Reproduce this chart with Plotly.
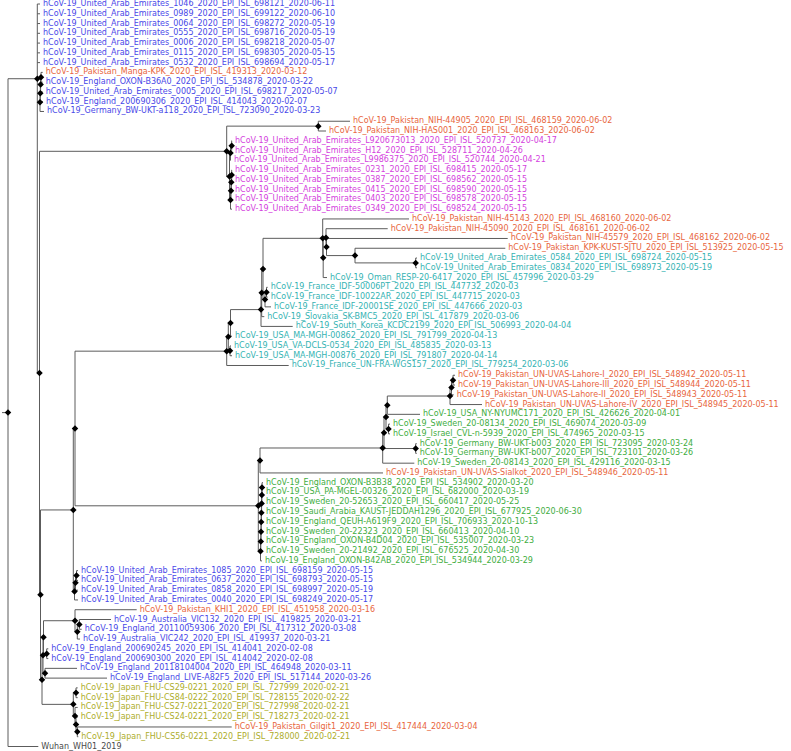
import plotly.graph_objects as go

# tip labels, top to bottom
LABELS = [
    "hCoV-19_United_Arab_Emirates_1046_2020_EPI_ISL_698121_2020-06-11",
    "hCoV-19_United_Arab_Emirates_0989_2020_EPI_ISL_699122_2020-06-10",
    "hCoV-19_United_Arab_Emirates_0064_2020_EPI_ISL_698272_2020-05-19",
    "hCoV-19_United_Arab_Emirates_0555_2020_EPI_ISL_698716_2020-05-19",
    "hCoV-19_United_Arab_Emirates_0006_2020_EPI_ISL_698218_2020-05-07",
    "hCoV-19_United_Arab_Emirates_0115_2020_EPI_ISL_698305_2020-05-15",
    "hCoV-19_United_Arab_Emirates_0532_2020_EPI_ISL_698694_2020-05-17",
    "hCoV-19_Pakistan_Manga-KPK_2020_EPI_ISL_419313_2020-03-12",
    "hCoV-19_England_OXON-B36A0_2020_EPI_ISL_534878_2020-03-22",
    "hCoV-19_United_Arab_Emirates_0005_2020_EPI_ISL_698217_2020-05-07",
    "hCoV-19_England_200690306_2020_EPI_ISL_414043_2020-02-07",
    "hCoV-19_Germany_BW-UKT-a118_2020_EPI_ISL_723090_2020-03-23",
    "hCoV-19_Pakistan_NIH-44905_2020_EPI_ISL_468159_2020-06-02",
    "hCoV-19_Pakistan_NIH-HAS001_2020_EPI_ISL_468163_2020-06-02",
    "hCoV-19_United_Arab_Emirates_L920673013_2020_EPI_ISL_520737_2020-04-17",
    "hCoV-19_United_Arab_Emirates_H12_2020_EPI_ISL_528711_2020-04-26",
    "hCoV-19_United_Arab_Emirates_L9986375_2020_EPI_ISL_520744_2020-04-21",
    "hCoV-19_United_Arab_Emirates_0231_2020_EPI_ISL_698415_2020-05-17",
    "hCoV-19_United_Arab_Emirates_0387_2020_EPI_ISL_698562_2020-05-15",
    "hCoV-19_United_Arab_Emirates_0415_2020_EPI_ISL_698590_2020-05-15",
    "hCoV-19_United_Arab_Emirates_0403_2020_EPI_ISL_698578_2020-05-15",
    "hCoV-19_United_Arab_Emirates_0349_2020_EPI_ISL_698524_2020-05-15",
    "hCoV-19_Pakistan_NIH-45143_2020_EPI_ISL_468160_2020-06-02",
    "hCoV-19_Pakistan_NIH-45090_2020_EPI_ISL_468161_2020-06-02",
    "hCoV-19_Pakistan_NIH-45579_2020_EPI_ISL_468162_2020-06-02",
    "hCoV-19_Pakistan_KPK-KUST-SJTU_2020_EPI_ISL_513925_2020-05-15",
    "hCoV-19_United_Arab_Emirates_0584_2020_EPI_ISL_698724_2020-05-15",
    "hCoV-19_United_Arab_Emirates_0834_2020_EPI_ISL_698973_2020-05-19",
    "hCoV-19_Oman_RESP-20-6417_2020_EPI_ISL_457996_2020-03-29",
    "hCoV-19_France_IDF-50006PT_2020_EPI_ISL_447732_2020-03",
    "hCoV-19_France_IDF-10022AR_2020_EPI_ISL_447715_2020-03",
    "hCoV-19_France_IDF-20001SE_2020_EPI_ISL_447666_2020-03",
    "hCoV-19_Slovakia_SK-BMC5_2020_EPI_ISL_417879_2020-03-06",
    "hCoV-19_South_Korea_KCDC2199_2020_EPI_ISL_506993_2020-04-04",
    "hCoV-19_USA_MA-MGH-00862_2020_EPI_ISL_791799_2020-04-13",
    "hCoV-19_USA_VA-DCLS-0534_2020_EPI_ISL_485835_2020-03-13",
    "hCoV-19_USA_MA-MGH-00876_2020_EPI_ISL_791807_2020-04-14",
    "hCoV-19_France_UN-FRA-WGS157_2020_EPI_ISL_779254_2020-03-06",
    "hCoV-19_Pakistan_UN-UVAS-Lahore-I_2020_EPI_ISL_548942_2020-05-11",
    "hCoV-19_Pakistan_UN-UVAS-Lahore-III_2020_EPI_ISL_548944_2020-05-11",
    "hCoV-19_Pakistan_UN-UVAS-Lahore-II_2020_EPI_ISL_548943_2020-05-11",
    "hCoV-19_Pakistan_UN-UVAS-Lahore-IV_2020_EPI_ISL_548945_2020-05-11",
    "hCoV-19_USA_NY-NYUMC171_2020_EPI_ISL_426626_2020-04-01",
    "hCoV-19_Sweden_20-08134_2020_EPI_ISL_469074_2020-03-09",
    "hCoV-19_Israel_CVL-n-5939_2020_EPI_ISL_474965_2020-03-15",
    "hCoV-19_Germany_BW-UKT-b003_2020_EPI_ISL_723095_2020-03-24",
    "hCoV-19_Germany_BW-UKT-b007_2020_EPI_ISL_723101_2020-03-26",
    "hCoV-19_Sweden_20-08143_2020_EPI_ISL_429116_2020-03-15",
    "hCoV-19_Pakistan_UN-UVAS-Sialkot_2020_EPI_ISL_548946_2020-05-11",
    "hCoV-19_England_OXON-B3B38_2020_EPI_ISL_534902_2020-03-20",
    "hCoV-19_USA_PA-MGEL-00326_2020_EPI_ISL_682000_2020-03-19",
    "hCoV-19_Sweden_20-52653_2020_EPI_ISL_660417_2020-05-25",
    "hCoV-19_Saudi_Arabia_KAUST-JEDDAH1296_2020_EPI_ISL_677925_2020-06-30",
    "hCoV-19_England_QEUH-A619F9_2020_EPI_ISL_706933_2020-10-13",
    "hCoV-19_Sweden_20-22323_2020_EPI_ISL_660413_2020-04-10",
    "hCoV-19_England_OXON-B4D04_2020_EPI_ISL_535007_2020-03-23",
    "hCoV-19_Sweden_20-21492_2020_EPI_ISL_676525_2020-04-30",
    "hCoV-19_England_OXON-B42AB_2020_EPI_ISL_534944_2020-03-29",
    "hCoV-19_United_Arab_Emirates_1085_2020_EPI_ISL_698159_2020-05-15",
    "hCoV-19_United_Arab_Emirates_0637_2020_EPI_ISL_698793_2020-05-15",
    "hCoV-19_United_Arab_Emirates_0858_2020_EPI_ISL_698997_2020-05-19",
    "hCoV-19_United_Arab_Emirates_0040_2020_EPI_ISL_698249_2020-05-17",
    "hCoV-19_Pakistan_KHI1_2020_EPI_ISL_451958_2020-03-16",
    "hCoV-19_Australia_VIC132_2020_EPI_ISL_419825_2020-03-21",
    "hCoV-19_England_20110059306_2020_EPI_ISL_417312_2020-03-08",
    "hCoV-19_Australia_VIC242_2020_EPI_ISL_419937_2020-03-21",
    "hCoV-19_England_200690245_2020_EPI_ISL_414041_2020-02-08",
    "hCoV-19_England_200690300_2020_EPI_ISL_414042_2020-02-08",
    "hCoV-19_England_20118104004_2020_EPI_ISL_464948_2020-03-11",
    "hCoV-19_England_LIVE-A82F5_2020_EPI_ISL_517144_2020-03-26",
    "hCoV-19_Japan_FHU-CS29-0221_2020_EPI_ISL_727999_2020-02-21",
    "hCoV-19_Japan_FHU-CS84-0222_2020_EPI_ISL_728155_2020-02-22",
    "hCoV-19_Japan_FHU-CS27-0221_2020_EPI_ISL_727998_2020-02-21",
    "hCoV-19_Japan_FHU-CS24-0221_2020_EPI_ISL_718273_2020-02-21",
    "hCoV-19_Pakistan_Gilgit1_2020_EPI_ISL_417444_2020-03-04",
    "hCoV-19_Japan_FHU-CS56-0221_2020_EPI_ISL_728000_2020-02-21",
    "Wuhan_WH01_2019",
]

# colour group of each tip (b=blue, o=Pakistan, m=magenta, t=teal, g=green, y=Japan, k=ref)
GROUPS = ("bbbbbbb" + "o" + "bbbb" + "oo" + "mmmmmmmm" + "oooo" + "tttttttttttt"
          + "oooo" + "gggggg" + "o" + "ggggggggg" + "bbbb" + "o" + "bbbbbbb"
          + "yyyy" + "o" + "y" + "k")

COLORS = {"b": "#4848e8", "o": "#e8653d", "m": "#d43fde", "t": "#35b3b3",
          "g": "#41ad41", "y": "#adad2a", "k": "#4a4a4a"}

# tree: leaves are indices into LABELS, value after ':' is divergence from origin
C2 = "((((7:42.7,8:42.7):41,9:42.7):40.6,10:43):40.3,11:44):40"
MAG = ("(((14:232,15:232):231.7,16:231):230.5,"
       "((((17:232,18:232):231.7,19:232):231.3,20:232):231,21:232):230.5):229.5")
M = "((12:350,13:326):318.3," + MAG + "):226.7"
N = "(22:409,((23:387.7,(24:507.7,(25:505.3,(26:417,27:417):415.7):355):326.5):326,28:327):323.2):322.7"
T0 = "(((" + N + ",((29:267.7,30:267.7):266.5,31:271):265):263,32:264.3):261.7,33:292.7):261"
V = "(((" + T0 + ",34:232):230.5,(35:231,36:232):230):228.3,37:288.7):226.7"
LAH = "(((38:455,39:455):453,40:453.7):451.5,41:482):450"
Q = ("(((((" + LAH + ",42:420):387.3,(43:390,44:390):388.5):386,"
     "(45:416.7,46:416.7):415.7):384,47:414.3):382.7,48:383):260")
G = "((((((((49:263,50:263):262,51:263):261.8,52:263):261.6,53:263):261.4,54:263):261.2,55:263):261,56:263):260.8,57:262):260.5"
P = "(" + Q + "," + G + "):258.3"
UG = "(((58:78,59:78):76.5,60:78):75.5,61:78):74.5"
W = "((" + V + "," + P + "):75," + UG + "):73.3"
K1 = "(62:136.7,((63:111,64:81.7):79.3,65:80):77.3):75"
K5 = "((" + K1 + ",(66:48.3,67:48.3):46.7):43.5,(68:77,69:107):45):43"
J = "((70:77.7,71:77.7):76,(72:77.7,(73:77.7,(74:231.7,75:78.3):77.3):76):75):73.3"
K6 = "(" + K5 + "," + J + "):42"
TREE = ("((0:40,1:40,2:40,3:40,4:40,5:40,6:40," + C2 + ",(" + M + ",("
        + W + "," + K6 + "):40.5):39.5):37.3,76:38.3):8")
ROOT_STUB = 2


def parse(s):
    pos = 0

    def node():
        nonlocal pos
        kids, leaf = [], None
        if s[pos] == "(":
            pos += 1
            kids.append(node())
            while s[pos] == ",":
                pos += 1
                kids.append(node())
            pos += 1
        else:
            j = pos
            while s[pos] not in ":,)":
                pos += 1
            leaf = int(s[j:pos])
        pos += 1
        j = pos
        while pos < len(s) and s[pos] not in ",)":
            pos += 1
        return {"leaf": leaf, "kids": kids, "x": float(s[j:pos])}

    return node()


def place(n):
    # tips sit on their row, an internal node at the mean of its children
    if n["leaf"] is not None:
        n["y"] = float(n["leaf"])
    else:
        for k in n["kids"]:
            place(k)
        n["y"] = sum(k["y"] for k in n["kids"]) / len(n["kids"])


root = parse(TREE)
place(root)

lx, ly, nx, ny, tips = [], [], [], [], []
lx += [ROOT_STUB, root["x"], None]
ly += [root["y"], root["y"], None]
stack = [root]
while stack:
    n = stack.pop()
    if not n["kids"]:
        tips.append(n)
        continue
    nx.append(n["x"])
    ny.append(n["y"])
    lx += [n["x"], n["x"], None]
    ly += [n["kids"][0]["y"], n["kids"][-1]["y"], None]
    for k in n["kids"]:
        lx += [n["x"], k["x"], None]
        ly += [k["y"], k["y"], None]
        stack.append(k)
tips.sort(key=lambda t: t["leaf"])

fig = go.Figure()
fig.add_trace(go.Scatter(x=lx, y=ly, mode="lines",
                         line=dict(color="#5c5c5c", width=1), hoverinfo="skip"))
fig.add_trace(go.Scatter(x=nx, y=ny, mode="markers",
                         marker=dict(symbol="diamond", size=5, color="black"),
                         hoverinfo="skip"))
fig.add_trace(go.Scatter(x=[t["x"] + 3 for t in tips], y=[t["y"] for t in tips],
                         mode="text", text=[LABELS[t["leaf"]] for t in tips],
                         textposition="middle right",
                         textfont=dict(family="DejaVu Sans", size=8,
                                       color=[COLORS[GROUPS[t["leaf"]]] for t in tips]),
                         cliponaxis=False, hoverinfo="skip"))

fig.update_layout(
    width=791, height=751,
    margin=dict(l=0, r=0, t=0, b=0),
    plot_bgcolor="white", paper_bgcolor="white",
    showlegend=False,
    xaxis=dict(range=[0, 791], visible=False),
    yaxis=dict(range=[76.46, -0.41], visible=False),
)
fig.write_html("out.html", config={"displayModeBar": False},
               post_script="document.body.style.margin='0';")
